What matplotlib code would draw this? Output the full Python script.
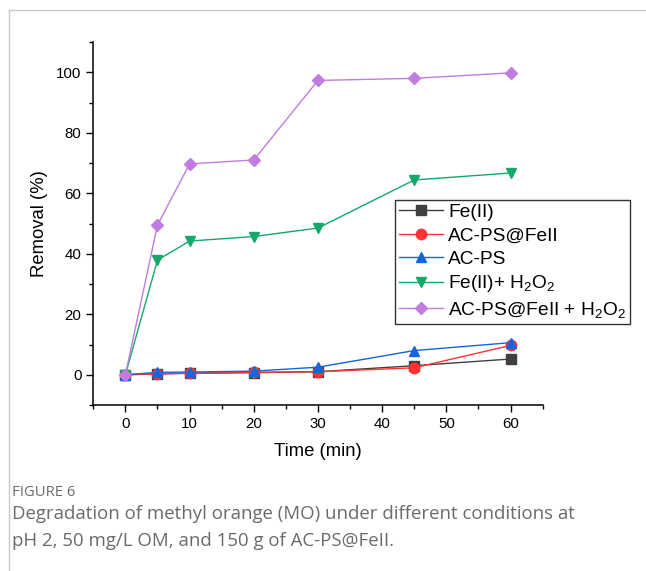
import matplotlib.pyplot as plt
from matplotlib.lines import Line2D
from matplotlib.ticker import MultipleLocator

# Data
time_min = [0, 5, 10, 20, 30, 45, 60]
fe2 = [0, 0.3, 0.5, 0.7, 1.0, 3.0, 5.2]
acps_fe = [0, 0.3, 0.5, 0.8, 1.0, 2.3, 9.7]
acps = [0, 0.8, 0.9, 1.2, 2.5, 8.0, 10.6]
fe2_h2o2 = [0, 37.9, 44.2, 45.7, 48.5, 64.4, 66.7]
acps_fe_h2o2 = [0, 49.5, 69.7, 71.0, 97.3, 98.0, 99.8]

series = [
    ("Fe(II)", fe2, "#3f3f3f", "s"),
    ("AC-PS@FeII", acps_fe, "#ff3333", "o"),
    ("AC-PS", acps, "#1466dc", "^"),
    (r"Fe(II)+ H$_2$O$_2$", fe2_h2o2, "#14a86a", "v"),
    (r"AC-PS@FeII + H$_2$O$_2$", acps_fe_h2o2, "#c07ce0", "D"),
]

plt.rcParams['font.family'] = ['Liberation Sans', 'DejaVu Sans']
plt.rcParams['mathtext.fontset'] = 'custom'
plt.rcParams['mathtext.rm'] = 'Liberation Sans'
plt.rcParams['mathtext.it'] = 'Liberation Sans'

fig = plt.figure(figsize=(6.46, 5.71), dpi=100)
ax = fig.add_axes([0.1444, 0.2907, 0.6956, 0.6357])

for label, vals, color, marker in series:
    ms = 6.5 if marker == "D" else 7.5
    ax.plot(time_min, vals, color=color, marker=marker, markersize=ms,
            linewidth=1.0, label=label)

ax.set_xlim(-5, 65)
ax.set_ylim(-10, 110)
ax.xaxis.set_minor_locator(MultipleLocator(5))
ax.yaxis.set_minor_locator(MultipleLocator(10))
ax.set_xticks(range(0, 61, 10))
ax.set_yticks(range(0, 101, 20))
ax.tick_params(which='major', direction='out', length=5, width=1, labelsize=10.8)
ax.tick_params(which='minor', direction='out', length=3, width=1)
for s in ["top", "right"]:
    ax.spines[s].set_visible(False)
for s in ["left", "bottom"]:
    ax.spines[s].set_linewidth(1.1)

ax.set_xlabel("Time (min)", fontsize=13.3, labelpad=9)
ax.set_ylabel("Removal (%)", fontsize=13.3, labelpad=6)

leg = ax.legend(loc='upper left', bbox_to_anchor=(0.671, 0.565), fontsize=13.8,
                frameon=True, fancybox=False, edgecolor='black',
                handlelength=2.3, handletextpad=0.3, labelspacing=0.3,
                borderpad=0.2, borderaxespad=0)
leg.get_frame().set_linewidth(1.0)

# caption and page frame
fig.add_artist(Line2D([9 / 646, 1], [1 - 10 / 571, 1 - 10 / 571], color='#c8c8c8', lw=1))
fig.add_artist(Line2D([9 / 646, 9 / 646], [0, 1 - 10 / 571], color='#c8c8c8', lw=1))
fig.text(12 / 646, 1 - 493 / 571, "FIGURE 6", fontsize=10.6, color='#6a6a6a',
         family=['Open Sans', 'DejaVu Sans'], va='center')
fig.text(12 / 646, 1 - 514 / 571,
         "Degradation of methyl orange (MO) under different conditions at",
         fontsize=13.4, color='#6a6a6a', family=['Open Sans', 'DejaVu Sans'], va='center')
fig.text(12 / 646, 1 - 541 / 571,
         "pH 2, 50 mg/L OM, and 150 g of AC-PS@FeII.",
         fontsize=13.4, color='#6a6a6a', family=['Open Sans', 'DejaVu Sans'], va='center')

fig.savefig("out.png", dpi=100)
